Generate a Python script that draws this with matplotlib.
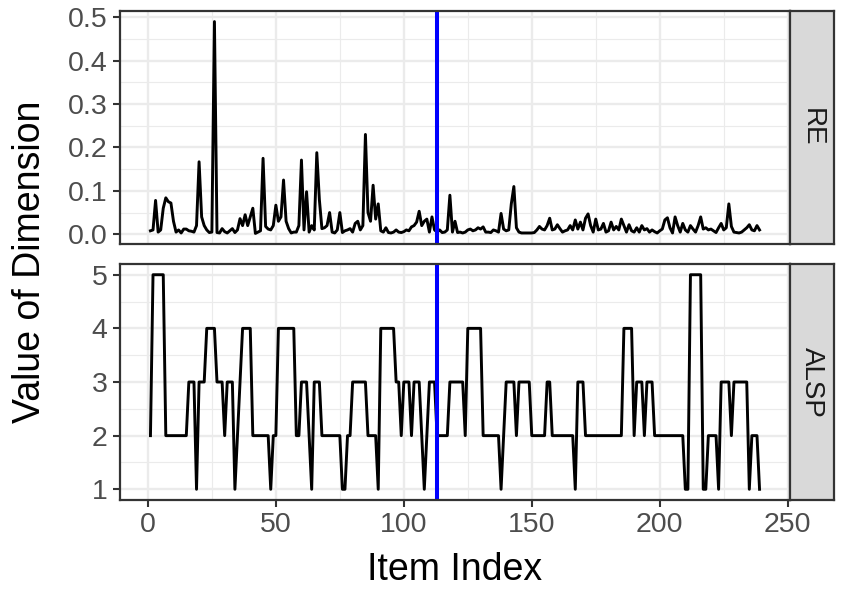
import numpy as np
import matplotlib.pyplot as plt
from matplotlib.ticker import MultipleLocator, FormatStrFormatter

plt.rcParams['font.family'] = ['Liberation Sans', 'DejaVu Sans']

# item index 1..239
item_index = np.arange(1, 240)

re_values = [
    0.008, 0.01, 0.078, 0.005, 0.01, 0.06, 0.084, 0.075, 0.072, 0.03,
    0.005, 0.01, 0.003, 0.012, 0.012, 0.008, 0.007, 0.005, 0.02, 0.167,
    0.04, 0.02, 0.01, 0.004, 0.005, 0.49, 0.004, 0.003, 0.013, 0.006,
    0.003, 0.008, 0.013, 0.004, 0.01, 0.036, 0.02, 0.045, 0.02, 0.04,
    0.06, 0.002, 0.005, 0.008, 0.175, 0.018, 0.012, 0.01, 0.02, 0.067,
    0.03, 0.04, 0.125, 0.03, 0.013, 0.003, 0.005, 0.005, 0.02, 0.171,
    0.01, 0.098, 0.005, 0.02, 0.01, 0.188, 0.08, 0.013, 0.015, 0.02,
    0.05, 0.005, 0.003, 0.01, 0.05, 0.004, 0.008, 0.01, 0.013, 0.005,
    0.025, 0.03, 0.01, 0.02, 0.23, 0.05, 0.03, 0.113, 0.035, 0.07,
    0.008, 0.005, 0.015, 0.004, 0.003, 0.005, 0.01, 0.005, 0.004, 0.006,
    0.01, 0.008, 0.017, 0.02, 0.028, 0.053, 0.02, 0.03, 0.035, 0.005,
    0.04, 0.01, 0.005, 0.01, 0.004, 0.005, 0.01, 0.09, 0.005, 0.03,
    0.004, 0.005, 0.003, 0.005, 0.01, 0.012, 0.008, 0.01, 0.015, 0.012,
    0.017, 0.005, 0.005, 0.004, 0.01, 0.008, 0.005, 0.048, 0.012, 0.008,
    0.01, 0.07, 0.11, 0.015, 0.005, 0.003, 0.003, 0.003, 0.003, 0.003,
    0.004, 0.01, 0.018, 0.012, 0.01, 0.02, 0.037, 0.01, 0.012, 0.022,
    0.013, 0.005, 0.008, 0.01, 0.02, 0.01, 0.033, 0.012, 0.028, 0.01,
    0.037, 0.047, 0.02, 0.005, 0.035, 0.01, 0.012, 0.025, 0.005, 0.008,
    0.028, 0.01, 0.018, 0.01, 0.035, 0.02, 0.005, 0.022, 0.008, 0.005,
    0.015, 0.005, 0.02, 0.01, 0.013, 0.005, 0.01, 0.006, 0.003, 0.008,
    0.012, 0.033, 0.038, 0.015, 0.003, 0.04, 0.02, 0.005, 0.025, 0.01,
    0.005, 0.02, 0.012, 0.005, 0.02, 0.04, 0.012, 0.015, 0.01, 0.012,
    0.008, 0.004, 0.015, 0.025, 0.01, 0.015, 0.07, 0.018, 0.005, 0.004,
    0.003, 0.005, 0.01, 0.015, 0.022, 0.01, 0.008, 0.02, 0.01,
]

alsp_values = [
    2, 5, 5, 5, 5, 5, 2, 2, 2, 2,
    2, 2, 2, 2, 2, 3, 3, 3, 1, 3,
    3, 3, 4, 4, 4, 4, 3, 3, 3, 2,
    3, 3, 3, 1, 2, 3, 4, 4, 4, 4,
    2, 2, 2, 2, 2, 2, 2, 1, 2, 2,
    4, 4, 4, 4, 4, 4, 4, 2, 2, 3,
    3, 3, 2, 1, 3, 3, 3, 2, 2, 2,
    2, 2, 2, 2, 2, 1, 1, 2, 2, 3,
    3, 3, 3, 3, 3, 2, 2, 2, 2, 1,
    4, 4, 4, 4, 4, 4, 3, 3, 2, 3,
    3, 3, 2, 3, 3, 3, 2, 1, 2, 3,
    3, 3, 2, 2, 2, 2, 2, 3, 3, 3,
    3, 3, 3, 2, 4, 4, 4, 4, 4, 4,
    2, 2, 2, 2, 2, 2, 2, 1, 2, 3,
    3, 3, 3, 2, 3, 3, 3, 3, 3, 2,
    2, 2, 2, 2, 2, 3, 3, 2, 2, 2,
    2, 2, 2, 2, 2, 2, 1, 3, 3, 3,
    2, 2, 2, 2, 2, 2, 2, 2, 2, 2,
    2, 2, 2, 2, 2, 4, 4, 4, 4, 2,
    3, 3, 3, 2, 3, 3, 3, 2, 2, 2,
    2, 2, 2, 2, 2, 2, 2, 2, 2, 1,
    1, 5, 5, 5, 5, 5, 1, 1, 2, 2,
    2, 2, 1, 3, 3, 3, 3, 2, 3, 3,
    3, 3, 3, 3, 1, 2, 2, 2, 1,
]

split_index = 113
strip_labels = ['RE', 'ALSP']

W, H = 844, 590
fig = plt.figure(figsize=(W / 100, H / 100), dpi=100)

ax_re = fig.add_axes([120 / W, 1 - 244 / H, 670 / W, 233 / H])
ax_alsp = fig.add_axes([120 / W, 1 - 500 / H, 670 / W, 236 / H])


def style_panel(ax):
    ax.set_facecolor('white')
    ax.grid(True, which='major', color='#EBEBEB', linewidth=1.7)
    ax.grid(True, which='minor', color='#EBEBEB', linewidth=0.85)
    ax.set_axisbelow(True)
    for s in ax.spines.values():
        s.set_color('#333333')
        s.set_linewidth(1.6)
    ax.tick_params(which='major', length=5, width=1.5, color='#333333',
                   labelsize=20.5, labelcolor='#4D4D4D', pad=4)
    ax.tick_params(which='minor', length=0)
    ax.xaxis.set_major_locator(MultipleLocator(50))
    ax.xaxis.set_minor_locator(MultipleLocator(25))
    ax.margins(x=0.05, y=0.05)


ax_re.plot(item_index, re_values, color='black', linewidth=2.1)
ax_re.axvline(split_index, color='blue', linewidth=2.9)
style_panel(ax_re)
ax_re.yaxis.set_major_locator(MultipleLocator(0.1))
ax_re.yaxis.set_minor_locator(MultipleLocator(0.05))
ax_re.yaxis.set_major_formatter(FormatStrFormatter('%.1f'))
ax_re.tick_params(axis='x', which='both', bottom=False, labelbottom=False)

ax_alsp.plot(item_index, alsp_values, color='black', linewidth=2.1)
ax_alsp.axvline(split_index, color='blue', linewidth=2.9)
style_panel(ax_alsp)
ax_alsp.yaxis.set_major_locator(MultipleLocator(1))
ax_alsp.yaxis.set_minor_locator(MultipleLocator(0.5))

# facet strips on the right
for ax, lab in zip([ax_re, ax_alsp], strip_labels):
    pos = ax.get_position()
    sax = fig.add_axes([790 / W, pos.y0, 44 / W, pos.height])
    sax.set_facecolor('#D9D9D9')
    sax.set_xticks([])
    sax.set_yticks([])
    for s in sax.spines.values():
        s.set_color('#333333')
        s.set_linewidth(1.6)
    sax.text(0.5, 0.5, lab, rotation=-90, ha='center', va='center',
             fontsize=20, color='#1A1A1A', transform=sax.transAxes)

fig.text(455 / W, 1 - 570 / H, 'Item Index', ha='center', va='center',
         fontsize=27)
fig.text(30 / W, 1 - 262 / H, 'Value of Dimension', ha='center',
         va='center', rotation=90, fontsize=27)

fig.savefig('out.png', dpi=100)
